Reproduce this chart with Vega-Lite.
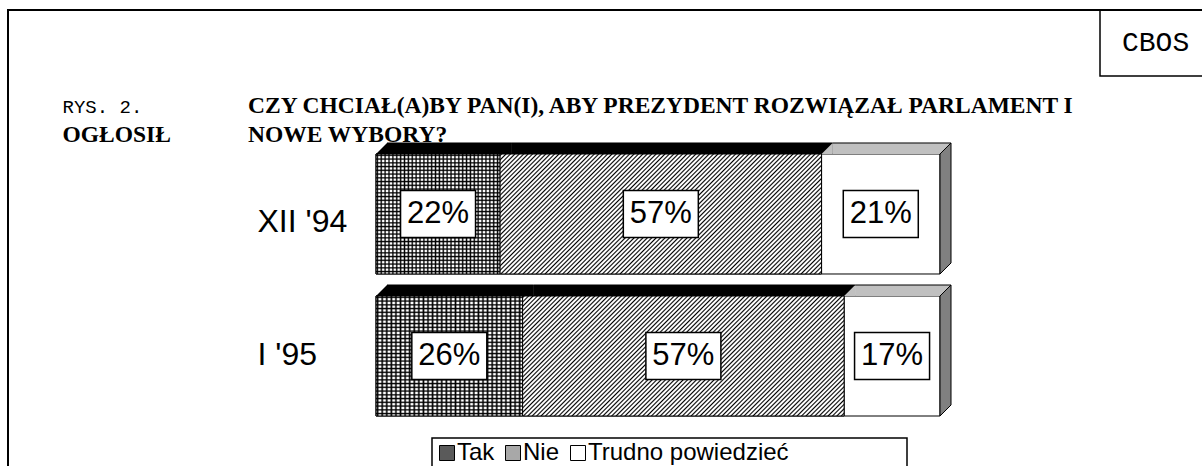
{
"$schema": "https://vega.github.io/schema/vega-lite/v6.json",
"usermeta": {"embedOptions": {"actions": false}},
"width": 1200,
"height": 460,
"autosize": {"type": "none"},
"padding": {"left": 8, "top": 10, "right": -6, "bottom": -4},
"background": "white",
"title": {"text": ["CZY CHCIAŁ(A)BY PAN(I), ABY PREZYDENT ROZWIĄZAŁ PARLAMENT I", "NOWE WYBORY?"], "orient": "none", "anchor": "start", "frame": "group", "dx": 240, "dy": 84, "lineHeight": 29, "font": "Liberation Serif", "fontSize": 23.5, "fontWeight": "bold", "color": "black"},
"data": {"values": [
{"period": "XII '94", "answer": "Tak", "value": 22},
{"period": "XII '94", "answer": "Nie", "value": 57},
{"period": "XII '94", "answer": "Trudno powiedzieć", "value": 21},
{"period": "I '95", "answer": "Tak", "value": 26},
{"period": "I '95", "answer": "Nie", "value": 57},
{"period": "I '95", "answer": "Trudno powiedzieć", "value": 17}
]},
"transform": [
{"stack": "value", "groupby": ["period"], "as": ["x0", "x1"]},
{"calculate": "(datum.x0 + datum.x1) / 2", "as": "mid"},
{"calculate": "datum.value + '%'", "as": "label"}
],
"layer": [
{"mark": {"type": "bar", "stroke": "black", "strokeWidth": 1},
 "encoding": {
  "x": {"field": "x0", "type": "quantitative", "scale": {"domain": [0, 100], "range": [368, 932], "nice": false, "zero": false},
        "axis": {"orient": "top", "title": "RYS. 2.", "titleX": 54, "titleY": 102, "titleAlign": "left", "titleBaseline": "alphabetic", "titleFont": "Liberation Mono", "titleFontSize": 19, "titleFontWeight": "normal", "titleColor": "black", "labels": false, "ticks": false, "domain": false, "grid": false}},
  "x2": {"field": "x1"},
  "y": {"field": "period", "type": "nominal", "scale": {"type": "band", "domain": ["XII '94", "I '95"], "range": [144, 406], "paddingInner": 0.155, "paddingOuter": 0},
        "axis": {"orient": "left", "offset": -249, "title": "OGŁOSIŁ", "titleAngle": 0, "titleX": -195, "titleY": 131, "titleAlign": "left", "titleBaseline": "alphabetic", "titleFont": "Liberation Serif", "titleFontSize": 23.5, "titleFontWeight": "bold", "titleColor": "black", "domain": false, "ticks": false, "tickSize": 0, "grid": false, "labelAlign": "left", "labelBaseline": "middle", "labelPadding": 0, "labelFont": "Liberation Sans", "labelFontSize": 32, "labelColor": "black", "labelOffset": {"condition": {"test": "indexof(datum.label, 'XII') >= 0", "value": 8}, "value": -1}}},
  "fill": {"field": "answer", "type": "nominal",
   "scale": {"domain": ["Tak", "Nie", "Trudno powiedzieć"], "range": ["#5a5a5a", "#a8a8a8", "#ffffff"]},
   "legend": {"orient": "none", "legendX": 424, "legendY": 428, "direction": "horizontal", "title": "\u2800\u2800\u2800\u2800\u2800\u2800", "titleOrient": "right", "titlePadding": 7, "titleFont": "Liberation Sans", "titleFontSize": 24, "titleFontWeight": "normal", "titleColor": "white", "symbolType": "square", "symbolSize": 225, "symbolStrokeColor": "black", "symbolStrokeWidth": 1, "symbolOpacity": 1, "labelFont": "Liberation Sans", "labelFontSize": 24, "labelColor": "black", "labelOffset": -2, "labelLimit": 600, "columnPadding": 6, "padding": 3, "strokeColor": "black"}}
 }},
{"transform": [{"filter": "datum.answer === 'Tak'"}],
 "mark": {"type": "bar", "stroke": "black", "strokeWidth": 1, "fill": {"gradient": "linear", "x1": 0, "y1": 0, "x2": 1, "y2": 0, "stops": [
{"offset":0,"color":"#fff"},{"offset":0.011,"color":"#000"},{"offset":0.022,"color":"#fff"},
{"offset":0.03125,"color":"#fff"},{"offset":0.04225,"color":"#000"},{"offset":0.05325,"color":"#fff"},
{"offset":0.0625,"color":"#fff"},{"offset":0.0735,"color":"#000"},{"offset":0.0845,"color":"#fff"},
{"offset":0.09375,"color":"#fff"},{"offset":0.10475,"color":"#000"},{"offset":0.11575,"color":"#fff"},
{"offset":0.125,"color":"#fff"},{"offset":0.136,"color":"#000"},{"offset":0.147,"color":"#fff"},
{"offset":0.15625,"color":"#fff"},{"offset":0.16725,"color":"#000"},{"offset":0.17825,"color":"#fff"},
{"offset":0.1875,"color":"#fff"},{"offset":0.1985,"color":"#000"},{"offset":0.2095,"color":"#fff"},
{"offset":0.21875,"color":"#fff"},{"offset":0.22975,"color":"#000"},{"offset":0.24075,"color":"#fff"},
{"offset":0.25,"color":"#fff"},{"offset":0.261,"color":"#000"},{"offset":0.272,"color":"#fff"},
{"offset":0.28125,"color":"#fff"},{"offset":0.29225,"color":"#000"},{"offset":0.30325,"color":"#fff"},
{"offset":0.3125,"color":"#fff"},{"offset":0.3235,"color":"#000"},{"offset":0.3345,"color":"#fff"},
{"offset":0.34375,"color":"#fff"},{"offset":0.35475,"color":"#000"},{"offset":0.36575,"color":"#fff"},
{"offset":0.375,"color":"#fff"},{"offset":0.386,"color":"#000"},{"offset":0.397,"color":"#fff"},
{"offset":0.40625,"color":"#fff"},{"offset":0.41725,"color":"#000"},{"offset":0.42825,"color":"#fff"},
{"offset":0.4375,"color":"#fff"},{"offset":0.4485,"color":"#000"},{"offset":0.4595,"color":"#fff"},
{"offset":0.46875,"color":"#fff"},{"offset":0.47975,"color":"#000"},{"offset":0.49075,"color":"#fff"},
{"offset":0.5,"color":"#fff"},{"offset":0.511,"color":"#000"},{"offset":0.522,"color":"#fff"},
{"offset":0.53125,"color":"#fff"},{"offset":0.54225,"color":"#000"},{"offset":0.55325,"color":"#fff"},
{"offset":0.5625,"color":"#fff"},{"offset":0.5735,"color":"#000"},{"offset":0.5845,"color":"#fff"},
{"offset":0.59375,"color":"#fff"},{"offset":0.60475,"color":"#000"},{"offset":0.61575,"color":"#fff"},
{"offset":0.625,"color":"#fff"},{"offset":0.636,"color":"#000"},{"offset":0.647,"color":"#fff"},
{"offset":0.65625,"color":"#fff"},{"offset":0.66725,"color":"#000"},{"offset":0.67825,"color":"#fff"},
{"offset":0.6875,"color":"#fff"},{"offset":0.6985,"color":"#000"},{"offset":0.7095,"color":"#fff"},
{"offset":0.71875,"color":"#fff"},{"offset":0.72975,"color":"#000"},{"offset":0.74075,"color":"#fff"},
{"offset":0.75,"color":"#fff"},{"offset":0.761,"color":"#000"},{"offset":0.772,"color":"#fff"},
{"offset":0.78125,"color":"#fff"},{"offset":0.79225,"color":"#000"},{"offset":0.80325,"color":"#fff"},
{"offset":0.8125,"color":"#fff"},{"offset":0.8235,"color":"#000"},{"offset":0.8345,"color":"#fff"},
{"offset":0.84375,"color":"#fff"},{"offset":0.85475,"color":"#000"},{"offset":0.86575,"color":"#fff"},
{"offset":0.875,"color":"#fff"},{"offset":0.886,"color":"#000"},{"offset":0.897,"color":"#fff"},
{"offset":0.90625,"color":"#fff"},{"offset":0.91725,"color":"#000"},{"offset":0.92825,"color":"#fff"},
{"offset":0.9375,"color":"#fff"},{"offset":0.9485,"color":"#000"},{"offset":0.9595,"color":"#fff"},
{"offset":0.96875,"color":"#fff"},{"offset":0.97975,"color":"#000"},{"offset":0.99075,"color":"#fff"}
 ]}},
 "encoding": {
  "x": {"field": "x0", "type": "quantitative"},
  "x2": {"field": "x1"},
  "y": {"field": "period", "type": "nominal"}
 }},
{"transform": [{"filter": "datum.answer === 'Tak'"}],
 "mark": {"type": "bar", "strokeWidth": 0, "fill": {"gradient": "linear", "x1": 0, "y1": 0, "x2": 0, "y2": 1, "stops": [
{"offset":0,"color":"rgba(0,0,0,0)"},{"offset":0.011,"color":"#000"},{"offset":0.022,"color":"rgba(0,0,0,0)"},
{"offset":0.03125,"color":"rgba(0,0,0,0)"},{"offset":0.04225,"color":"#000"},{"offset":0.05325,"color":"rgba(0,0,0,0)"},
{"offset":0.0625,"color":"rgba(0,0,0,0)"},{"offset":0.0735,"color":"#000"},{"offset":0.0845,"color":"rgba(0,0,0,0)"},
{"offset":0.09375,"color":"rgba(0,0,0,0)"},{"offset":0.10475,"color":"#000"},{"offset":0.11575,"color":"rgba(0,0,0,0)"},
{"offset":0.125,"color":"rgba(0,0,0,0)"},{"offset":0.136,"color":"#000"},{"offset":0.147,"color":"rgba(0,0,0,0)"},
{"offset":0.15625,"color":"rgba(0,0,0,0)"},{"offset":0.16725,"color":"#000"},{"offset":0.17825,"color":"rgba(0,0,0,0)"},
{"offset":0.1875,"color":"rgba(0,0,0,0)"},{"offset":0.1985,"color":"#000"},{"offset":0.2095,"color":"rgba(0,0,0,0)"},
{"offset":0.21875,"color":"rgba(0,0,0,0)"},{"offset":0.22975,"color":"#000"},{"offset":0.24075,"color":"rgba(0,0,0,0)"},
{"offset":0.25,"color":"rgba(0,0,0,0)"},{"offset":0.261,"color":"#000"},{"offset":0.272,"color":"rgba(0,0,0,0)"},
{"offset":0.28125,"color":"rgba(0,0,0,0)"},{"offset":0.29225,"color":"#000"},{"offset":0.30325,"color":"rgba(0,0,0,0)"},
{"offset":0.3125,"color":"rgba(0,0,0,0)"},{"offset":0.3235,"color":"#000"},{"offset":0.3345,"color":"rgba(0,0,0,0)"},
{"offset":0.34375,"color":"rgba(0,0,0,0)"},{"offset":0.35475,"color":"#000"},{"offset":0.36575,"color":"rgba(0,0,0,0)"},
{"offset":0.375,"color":"rgba(0,0,0,0)"},{"offset":0.386,"color":"#000"},{"offset":0.397,"color":"rgba(0,0,0,0)"},
{"offset":0.40625,"color":"rgba(0,0,0,0)"},{"offset":0.41725,"color":"#000"},{"offset":0.42825,"color":"rgba(0,0,0,0)"},
{"offset":0.4375,"color":"rgba(0,0,0,0)"},{"offset":0.4485,"color":"#000"},{"offset":0.4595,"color":"rgba(0,0,0,0)"},
{"offset":0.46875,"color":"rgba(0,0,0,0)"},{"offset":0.47975,"color":"#000"},{"offset":0.49075,"color":"rgba(0,0,0,0)"},
{"offset":0.5,"color":"rgba(0,0,0,0)"},{"offset":0.511,"color":"#000"},{"offset":0.522,"color":"rgba(0,0,0,0)"},
{"offset":0.53125,"color":"rgba(0,0,0,0)"},{"offset":0.54225,"color":"#000"},{"offset":0.55325,"color":"rgba(0,0,0,0)"},
{"offset":0.5625,"color":"rgba(0,0,0,0)"},{"offset":0.5735,"color":"#000"},{"offset":0.5845,"color":"rgba(0,0,0,0)"},
{"offset":0.59375,"color":"rgba(0,0,0,0)"},{"offset":0.60475,"color":"#000"},{"offset":0.61575,"color":"rgba(0,0,0,0)"},
{"offset":0.625,"color":"rgba(0,0,0,0)"},{"offset":0.636,"color":"#000"},{"offset":0.647,"color":"rgba(0,0,0,0)"},
{"offset":0.65625,"color":"rgba(0,0,0,0)"},{"offset":0.66725,"color":"#000"},{"offset":0.67825,"color":"rgba(0,0,0,0)"},
{"offset":0.6875,"color":"rgba(0,0,0,0)"},{"offset":0.6985,"color":"#000"},{"offset":0.7095,"color":"rgba(0,0,0,0)"},
{"offset":0.71875,"color":"rgba(0,0,0,0)"},{"offset":0.72975,"color":"#000"},{"offset":0.74075,"color":"rgba(0,0,0,0)"},
{"offset":0.75,"color":"rgba(0,0,0,0)"},{"offset":0.761,"color":"#000"},{"offset":0.772,"color":"rgba(0,0,0,0)"},
{"offset":0.78125,"color":"rgba(0,0,0,0)"},{"offset":0.79225,"color":"#000"},{"offset":0.80325,"color":"rgba(0,0,0,0)"},
{"offset":0.8125,"color":"rgba(0,0,0,0)"},{"offset":0.8235,"color":"#000"},{"offset":0.8345,"color":"rgba(0,0,0,0)"},
{"offset":0.84375,"color":"rgba(0,0,0,0)"},{"offset":0.85475,"color":"#000"},{"offset":0.86575,"color":"rgba(0,0,0,0)"},
{"offset":0.875,"color":"rgba(0,0,0,0)"},{"offset":0.886,"color":"#000"},{"offset":0.897,"color":"rgba(0,0,0,0)"},
{"offset":0.90625,"color":"rgba(0,0,0,0)"},{"offset":0.91725,"color":"#000"},{"offset":0.92825,"color":"rgba(0,0,0,0)"},
{"offset":0.9375,"color":"rgba(0,0,0,0)"},{"offset":0.9485,"color":"#000"},{"offset":0.9595,"color":"rgba(0,0,0,0)"},
{"offset":0.96875,"color":"rgba(0,0,0,0)"},{"offset":0.97975,"color":"#000"},{"offset":0.99075,"color":"rgba(0,0,0,0)"}
 ]}},
 "encoding": {
  "x": {"field": "x0", "type": "quantitative"},
  "x2": {"field": "x1"},
  "y": {"field": "period", "type": "nominal"}
 }},
{"transform": [{"filter": "datum.answer === 'Nie'"}],
 "mark": {"type": "bar", "stroke": "black", "strokeWidth": 1, "fill": {"gradient": "linear", "x1": 0, "y1": 0, "x2": 1.20535, "y2": 0.44992, "stops": [
{"offset":0,"color":"#fff"},{"offset":0.0035,"color":"#000"},{"offset":0.007,"color":"#fff"},
{"offset":0.01,"color":"#fff"},{"offset":0.0135,"color":"#000"},{"offset":0.017,"color":"#fff"},
{"offset":0.02,"color":"#fff"},{"offset":0.0235,"color":"#000"},{"offset":0.027,"color":"#fff"},
{"offset":0.03,"color":"#fff"},{"offset":0.0335,"color":"#000"},{"offset":0.037,"color":"#fff"},
{"offset":0.04,"color":"#fff"},{"offset":0.0435,"color":"#000"},{"offset":0.047,"color":"#fff"},
{"offset":0.05,"color":"#fff"},{"offset":0.0535,"color":"#000"},{"offset":0.057,"color":"#fff"},
{"offset":0.06,"color":"#fff"},{"offset":0.0635,"color":"#000"},{"offset":0.067,"color":"#fff"},
{"offset":0.07,"color":"#fff"},{"offset":0.0735,"color":"#000"},{"offset":0.077,"color":"#fff"},
{"offset":0.08,"color":"#fff"},{"offset":0.0835,"color":"#000"},{"offset":0.087,"color":"#fff"},
{"offset":0.09,"color":"#fff"},{"offset":0.0935,"color":"#000"},{"offset":0.097,"color":"#fff"},
{"offset":0.10,"color":"#fff"},{"offset":0.1035,"color":"#000"},{"offset":0.107,"color":"#fff"},
{"offset":0.11,"color":"#fff"},{"offset":0.1135,"color":"#000"},{"offset":0.117,"color":"#fff"},
{"offset":0.12,"color":"#fff"},{"offset":0.1235,"color":"#000"},{"offset":0.127,"color":"#fff"},
{"offset":0.13,"color":"#fff"},{"offset":0.1335,"color":"#000"},{"offset":0.137,"color":"#fff"},
{"offset":0.14,"color":"#fff"},{"offset":0.1435,"color":"#000"},{"offset":0.147,"color":"#fff"},
{"offset":0.15,"color":"#fff"},{"offset":0.1535,"color":"#000"},{"offset":0.157,"color":"#fff"},
{"offset":0.16,"color":"#fff"},{"offset":0.1635,"color":"#000"},{"offset":0.167,"color":"#fff"},
{"offset":0.17,"color":"#fff"},{"offset":0.1735,"color":"#000"},{"offset":0.177,"color":"#fff"},
{"offset":0.18,"color":"#fff"},{"offset":0.1835,"color":"#000"},{"offset":0.187,"color":"#fff"},
{"offset":0.19,"color":"#fff"},{"offset":0.1935,"color":"#000"},{"offset":0.197,"color":"#fff"},
{"offset":0.20,"color":"#fff"},{"offset":0.2035,"color":"#000"},{"offset":0.207,"color":"#fff"},
{"offset":0.21,"color":"#fff"},{"offset":0.2135,"color":"#000"},{"offset":0.217,"color":"#fff"},
{"offset":0.22,"color":"#fff"},{"offset":0.2235,"color":"#000"},{"offset":0.227,"color":"#fff"},
{"offset":0.23,"color":"#fff"},{"offset":0.2335,"color":"#000"},{"offset":0.237,"color":"#fff"},
{"offset":0.24,"color":"#fff"},{"offset":0.2435,"color":"#000"},{"offset":0.247,"color":"#fff"},
{"offset":0.25,"color":"#fff"},{"offset":0.2535,"color":"#000"},{"offset":0.257,"color":"#fff"},
{"offset":0.26,"color":"#fff"},{"offset":0.2635,"color":"#000"},{"offset":0.267,"color":"#fff"},
{"offset":0.27,"color":"#fff"},{"offset":0.2735,"color":"#000"},{"offset":0.277,"color":"#fff"},
{"offset":0.28,"color":"#fff"},{"offset":0.2835,"color":"#000"},{"offset":0.287,"color":"#fff"},
{"offset":0.29,"color":"#fff"},{"offset":0.2935,"color":"#000"},{"offset":0.297,"color":"#fff"},
{"offset":0.30,"color":"#fff"},{"offset":0.3035,"color":"#000"},{"offset":0.307,"color":"#fff"},
{"offset":0.31,"color":"#fff"},{"offset":0.3135,"color":"#000"},{"offset":0.317,"color":"#fff"},
{"offset":0.32,"color":"#fff"},{"offset":0.3235,"color":"#000"},{"offset":0.327,"color":"#fff"},
{"offset":0.33,"color":"#fff"},{"offset":0.3335,"color":"#000"},{"offset":0.337,"color":"#fff"},
{"offset":0.34,"color":"#fff"},{"offset":0.3435,"color":"#000"},{"offset":0.347,"color":"#fff"},
{"offset":0.35,"color":"#fff"},{"offset":0.3535,"color":"#000"},{"offset":0.357,"color":"#fff"},
{"offset":0.36,"color":"#fff"},{"offset":0.3635,"color":"#000"},{"offset":0.367,"color":"#fff"},
{"offset":0.37,"color":"#fff"},{"offset":0.3735,"color":"#000"},{"offset":0.377,"color":"#fff"},
{"offset":0.38,"color":"#fff"},{"offset":0.3835,"color":"#000"},{"offset":0.387,"color":"#fff"},
{"offset":0.39,"color":"#fff"},{"offset":0.3935,"color":"#000"},{"offset":0.397,"color":"#fff"},
{"offset":0.40,"color":"#fff"},{"offset":0.4035,"color":"#000"},{"offset":0.407,"color":"#fff"},
{"offset":0.41,"color":"#fff"},{"offset":0.4135,"color":"#000"},{"offset":0.417,"color":"#fff"},
{"offset":0.42,"color":"#fff"},{"offset":0.4235,"color":"#000"},{"offset":0.427,"color":"#fff"},
{"offset":0.43,"color":"#fff"},{"offset":0.4335,"color":"#000"},{"offset":0.437,"color":"#fff"},
{"offset":0.44,"color":"#fff"},{"offset":0.4435,"color":"#000"},{"offset":0.447,"color":"#fff"},
{"offset":0.45,"color":"#fff"},{"offset":0.4535,"color":"#000"},{"offset":0.457,"color":"#fff"},
{"offset":0.46,"color":"#fff"},{"offset":0.4635,"color":"#000"},{"offset":0.467,"color":"#fff"},
{"offset":0.47,"color":"#fff"},{"offset":0.4735,"color":"#000"},{"offset":0.477,"color":"#fff"},
{"offset":0.48,"color":"#fff"},{"offset":0.4835,"color":"#000"},{"offset":0.487,"color":"#fff"},
{"offset":0.49,"color":"#fff"},{"offset":0.4935,"color":"#000"},{"offset":0.497,"color":"#fff"},
{"offset":0.50,"color":"#fff"},{"offset":0.5035,"color":"#000"},{"offset":0.507,"color":"#fff"},
{"offset":0.51,"color":"#fff"},{"offset":0.5135,"color":"#000"},{"offset":0.517,"color":"#fff"},
{"offset":0.52,"color":"#fff"},{"offset":0.5235,"color":"#000"},{"offset":0.527,"color":"#fff"},
{"offset":0.53,"color":"#fff"},{"offset":0.5335,"color":"#000"},{"offset":0.537,"color":"#fff"},
{"offset":0.54,"color":"#fff"},{"offset":0.5435,"color":"#000"},{"offset":0.547,"color":"#fff"},
{"offset":0.55,"color":"#fff"},{"offset":0.5535,"color":"#000"},{"offset":0.557,"color":"#fff"},
{"offset":0.56,"color":"#fff"},{"offset":0.5635,"color":"#000"},{"offset":0.567,"color":"#fff"},
{"offset":0.57,"color":"#fff"},{"offset":0.5735,"color":"#000"},{"offset":0.577,"color":"#fff"},
{"offset":0.58,"color":"#fff"},{"offset":0.5835,"color":"#000"},{"offset":0.587,"color":"#fff"},
{"offset":0.59,"color":"#fff"},{"offset":0.5935,"color":"#000"},{"offset":0.597,"color":"#fff"},
{"offset":0.60,"color":"#fff"},{"offset":0.6035,"color":"#000"},{"offset":0.607,"color":"#fff"},
{"offset":0.61,"color":"#fff"},{"offset":0.6135,"color":"#000"},{"offset":0.617,"color":"#fff"},
{"offset":0.62,"color":"#fff"},{"offset":0.6235,"color":"#000"},{"offset":0.627,"color":"#fff"},
{"offset":0.63,"color":"#fff"},{"offset":0.6335,"color":"#000"},{"offset":0.637,"color":"#fff"},
{"offset":0.64,"color":"#fff"},{"offset":0.6435,"color":"#000"},{"offset":0.647,"color":"#fff"},
{"offset":0.65,"color":"#fff"},{"offset":0.6535,"color":"#000"},{"offset":0.657,"color":"#fff"},
{"offset":0.66,"color":"#fff"},{"offset":0.6635,"color":"#000"},{"offset":0.667,"color":"#fff"},
{"offset":0.67,"color":"#fff"},{"offset":0.6735,"color":"#000"},{"offset":0.677,"color":"#fff"},
{"offset":0.68,"color":"#fff"},{"offset":0.6835,"color":"#000"},{"offset":0.687,"color":"#fff"},
{"offset":0.69,"color":"#fff"},{"offset":0.6935,"color":"#000"},{"offset":0.697,"color":"#fff"},
{"offset":0.70,"color":"#fff"},{"offset":0.7035,"color":"#000"},{"offset":0.707,"color":"#fff"},
{"offset":0.71,"color":"#fff"},{"offset":0.7135,"color":"#000"},{"offset":0.717,"color":"#fff"},
{"offset":0.72,"color":"#fff"},{"offset":0.7235,"color":"#000"},{"offset":0.727,"color":"#fff"},
{"offset":0.73,"color":"#fff"},{"offset":0.7335,"color":"#000"},{"offset":0.737,"color":"#fff"},
{"offset":0.74,"color":"#fff"},{"offset":0.7435,"color":"#000"},{"offset":0.747,"color":"#fff"},
{"offset":0.75,"color":"#fff"},{"offset":0.7535,"color":"#000"},{"offset":0.757,"color":"#fff"},
{"offset":0.76,"color":"#fff"},{"offset":0.7635,"color":"#000"},{"offset":0.767,"color":"#fff"},
{"offset":0.77,"color":"#fff"},{"offset":0.7735,"color":"#000"},{"offset":0.777,"color":"#fff"},
{"offset":0.78,"color":"#fff"},{"offset":0.7835,"color":"#000"},{"offset":0.787,"color":"#fff"},
{"offset":0.79,"color":"#fff"},{"offset":0.7935,"color":"#000"},{"offset":0.797,"color":"#fff"},
{"offset":0.80,"color":"#fff"},{"offset":0.8035,"color":"#000"},{"offset":0.807,"color":"#fff"},
{"offset":0.81,"color":"#fff"},{"offset":0.8135,"color":"#000"},{"offset":0.817,"color":"#fff"},
{"offset":0.82,"color":"#fff"},{"offset":0.8235,"color":"#000"},{"offset":0.827,"color":"#fff"},
{"offset":0.83,"color":"#fff"},{"offset":0.8335,"color":"#000"},{"offset":0.837,"color":"#fff"},
{"offset":0.84,"color":"#fff"},{"offset":0.8435,"color":"#000"},{"offset":0.847,"color":"#fff"},
{"offset":0.85,"color":"#fff"},{"offset":0.8535,"color":"#000"},{"offset":0.857,"color":"#fff"},
{"offset":0.86,"color":"#fff"},{"offset":0.8635,"color":"#000"},{"offset":0.867,"color":"#fff"},
{"offset":0.87,"color":"#fff"},{"offset":0.8735,"color":"#000"},{"offset":0.877,"color":"#fff"},
{"offset":0.88,"color":"#fff"},{"offset":0.8835,"color":"#000"},{"offset":0.887,"color":"#fff"},
{"offset":0.89,"color":"#fff"},{"offset":0.8935,"color":"#000"},{"offset":0.897,"color":"#fff"},
{"offset":0.90,"color":"#fff"},{"offset":0.9035,"color":"#000"},{"offset":0.907,"color":"#fff"},
{"offset":0.91,"color":"#fff"},{"offset":0.9135,"color":"#000"},{"offset":0.917,"color":"#fff"},
{"offset":0.92,"color":"#fff"},{"offset":0.9235,"color":"#000"},{"offset":0.927,"color":"#fff"},
{"offset":0.93,"color":"#fff"},{"offset":0.9335,"color":"#000"},{"offset":0.937,"color":"#fff"},
{"offset":0.94,"color":"#fff"},{"offset":0.9435,"color":"#000"},{"offset":0.947,"color":"#fff"},
{"offset":0.95,"color":"#fff"},{"offset":0.9535,"color":"#000"},{"offset":0.957,"color":"#fff"},
{"offset":0.96,"color":"#fff"},{"offset":0.9635,"color":"#000"},{"offset":0.967,"color":"#fff"},
{"offset":0.97,"color":"#fff"},{"offset":0.9735,"color":"#000"},{"offset":0.977,"color":"#fff"},
{"offset":0.98,"color":"#fff"},{"offset":0.9835,"color":"#000"},{"offset":0.987,"color":"#fff"},
{"offset":0.99,"color":"#fff"},{"offset":0.9935,"color":"#000"},{"offset":0.997,"color":"#fff"}
 ]}},
 "encoding": {
  "x": {"field": "x0", "type": "quantitative"},
  "x2": {"field": "x1"},
  "y": {"field": "period", "type": "nominal"}
 }},
{"mark": {"type": "bar", "height": 11, "yOffset": -65.5, "xOffset": 11, "x2Offset": 11, "strokeWidth": 0},
 "encoding": {
  "x": {"field": "x0", "type": "quantitative"},
  "x2": {"field": "x1"},
  "y": {"field": "period", "type": "nominal"},
  "fill": {"condition": {"test": "datum.answer === 'Trudno powiedzieć'", "value": "#c0c0c0"}, "value": "#000000"}
 }},
{"mark": {"type": "point", "shape": "M0,-60L11,-60L11,-71Z", "size": 4, "filled": true, "strokeWidth": 0, "opacity": 1},
 "encoding": {
  "x": {"field": "x0", "type": "quantitative"},
  "y": {"field": "period", "type": "nominal"},
  "fill": {"condition": {"test": "datum.answer === 'Trudno powiedzieć'", "value": "#c0c0c0"}, "value": "#000000"}
 }},
{"mark": {"type": "rule", "xOffset": 11, "x2Offset": 11, "yOffset": -71, "stroke": "black", "strokeWidth": 1},
 "encoding": {
  "x": {"field": "x0", "type": "quantitative"},
  "x2": {"field": "x1"},
  "y": {"field": "period", "type": "nominal"},
  "opacity": {"datum": "CBOS", "type": "nominal", "scale": {"range": [1]},
   "legend": {"orient": "none", "legendX": 1092, "legendY": 0, "title": null, "symbolType": "square", "symbolSize": 0, "symbolOpacity": 0, "symbolStrokeWidth": 0, "labelFont": "Liberation Mono", "labelFontSize": 28, "labelColor": "black", "labelOffset": -25, "padding": 19, "strokeColor": "black"}}
 }},
{"transform": [{"filter": "datum.answer === 'Trudno powiedzieć'"}],
 "mark": {"type": "point", "shape": "M0,-60L11,-71L11,49L0,60Z", "size": 4, "filled": true, "fill": "#808080", "stroke": "black", "strokeWidth": 1, "opacity": 1},
 "encoding": {
  "x": {"field": "x1", "type": "quantitative"},
  "y": {"field": "period", "type": "nominal"}
 }},
{"mark": {"type": "point", "shape": "M-37.5,-23.5L37.5,-23.5L37.5,23.5L-37.5,23.5Z", "size": 4, "filled": true, "fill": "white", "stroke": "black", "strokeWidth": 1.5, "opacity": 1},
 "encoding": {
  "x": {"field": "mid", "type": "quantitative"},
  "y": {"field": "period", "type": "nominal"}
 }},
{"mark": {"type": "text", "font": "Liberation Sans", "fontSize": 31, "fill": "black", "align": "center", "baseline": "middle"},
 "encoding": {
  "x": {"field": "mid", "type": "quantitative"},
  "y": {"field": "period", "type": "nominal"},
  "text": {"field": "label"}
 }}
],
"config": {"view": {"stroke": "black", "strokeWidth": 2}, "legend": {"strokeWidth": 1.5}}
}
